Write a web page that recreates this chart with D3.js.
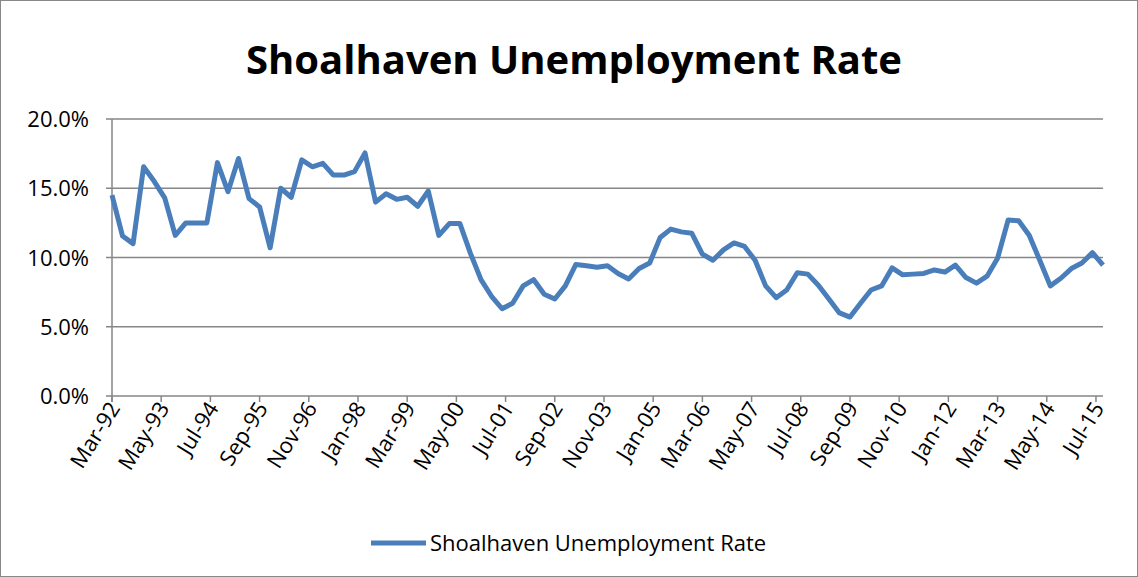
<!DOCTYPE html>
<html><head><meta charset="utf-8">
<script src="https://cdn.jsdelivr.net/npm/d3@7"></script>
<style>body{margin:0;background:#fff}text{font-family:"Open Sans","Liberation Sans",sans-serif}</style>
</head><body><svg id="c" width="1138" height="577"></svg>
<script>
const startYear = 1992, startMonth = 2; // Mar-92, quarterly
const values = [14.5,11.55,11.0,16.55,15.5,14.3,11.6,12.5,12.5,12.5,16.85,14.75,17.15,14.25,13.65,10.7,15.0,14.35,17.05,16.55,16.8,15.95,15.95,16.2,17.55,14.0,14.6,14.2,14.35,13.7,14.8,11.6,12.45,12.45,10.3,8.4,7.2,6.3,6.7,7.95,8.4,7.35,7.0,7.95,9.5,9.4,9.3,9.4,8.85,8.45,9.2,9.6,11.45,12.05,11.85,11.75,10.25,9.8,10.55,11.05,10.8,9.8,7.95,7.1,7.65,8.9,8.8,8.0,7.0,6.0,5.7,6.7,7.65,7.95,9.25,8.75,8.8,8.85,9.1,8.95,9.45,8.55,8.15,8.65,9.95,12.7,12.65,11.6,9.8,7.95,8.5,9.2,9.6,10.35,9.45];
const yTicks = [0,5,10,15,20];
const tickStepMonths = 14;
const seriesName = "Shoalhaven Unemployment Rate";

const svg = d3.select("#c");
svg.append("rect").attr("x",0.5).attr("y",0.5).attr("width",1137).attr("height",576).attr("fill","#fff").attr("stroke","#888");
const months = values.map((v,i)=>i*3);
const L=112,R=1103,T=119,B=396;
const x = d3.scaleLinear().domain([0,282]).range([L,R]);
const y = d3.scaleLinear().domain([0,20]).range([B,T]);
svg.append("text").attr("x",574).attr("y",74).attr("text-anchor","middle").attr("font-size",40).attr("font-weight","bold").text("Shoalhaven Unemployment Rate");
svg.append("g").selectAll("line").data(yTicks).join("line").attr("x1",L-6).attr("x2",R).attr("y1",d=>y(d)).attr("y2",d=>y(d)).attr("stroke","#868686").attr("stroke-width",1.5);
svg.append("line").attr("x1",L).attr("x2",L).attr("y1",T).attr("y2",B+6).attr("stroke","#868686").attr("stroke-width",1.5);
svg.append("g").selectAll("text").data(yTicks).join("text").attr("x",L-23).attr("y",d=>y(d)+8).attr("text-anchor","end").attr("font-size",22).text(d=>d.toFixed(1)+"%");
const mn=["Jan","Feb","Mar","Apr","May","Jun","Jul","Aug","Sep","Oct","Nov","Dec"];
const xt=d3.range(0,283,tickStepMonths);
svg.append("g").selectAll("line").data(xt).join("line").attr("x1",d=>x(d)).attr("x2",d=>x(d)).attr("y1",B).attr("y2",B+6).attr("stroke","#868686").attr("stroke-width",1.5);
svg.append("g").selectAll("text").data(xt).join("text").attr("font-size",22).attr("text-anchor","end")
 .attr("transform",d=>`translate(${x(d)+9},${B+12}) rotate(-58)`)
 .text(d=>{const m=startMonth+d;return mn[m%12]+"-"+String((startYear+Math.floor(m/12))%100).padStart(2,"0");});
svg.append("path").datum(values).attr("fill","none").attr("stroke","#4a7ebb").attr("stroke-width",5).attr("stroke-linejoin","round")
 .attr("d",d3.line().x((d,i)=>x(months[i])).y(d=>y(d)));
svg.append("line").attr("x1",371).attr("x2",426).attr("y1",543).attr("y2",543).attr("stroke","#4a7ebb").attr("stroke-width",5);
svg.append("text").attr("x",430).attr("y",551).attr("font-size",22).text(seriesName);
</script></body></html>
